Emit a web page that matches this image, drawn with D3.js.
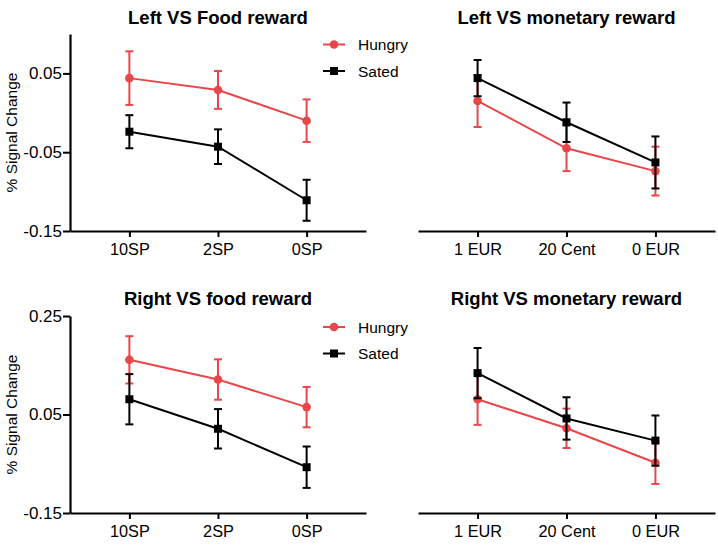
<!DOCTYPE html>
<html>
<head>
<meta charset="utf-8">
<script src="https://cdn.jsdelivr.net/npm/d3@7/dist/d3.min.js"></script>
<style>
  html, body { margin: 0; padding: 0; background: #fff; }
  svg { display: block; font-family: "Liberation Sans", Arial, Helvetica, sans-serif; }
</style>
</head>
<body>
<svg id="chart" width="718" height="547"></svg>
<script>
// ---- data ----
const foodCategories = ["10SP", "2SP", "0SP"];
const moneyCategories = ["1 EUR", "20 Cent", "0 EUR"];
const seriesNames = ["Hungry", "Sated"];
const seriesColors = ["#e8474a", "#000000"];

const leftFoodHungry = [0.044, 0.029, -0.010];
const leftFoodHungryErr = [0.034, 0.024, 0.027];
const leftFoodSated = [-0.024, -0.043, -0.111];
const leftFoodSatedErr = [0.021, 0.022, 0.026];

const leftMoneyHungry = [0.015, -0.045, -0.074];
const leftMoneyHungryErr = [0.033, 0.029, 0.031];
const leftMoneySated = [0.044, -0.012, -0.063];
const leftMoneySatedErr = [0.023, 0.025, 0.033];

const rightFoodHungry = [0.161, 0.121, 0.065];
const rightFoodHungryErr = [0.048, 0.041, 0.041];
const rightFoodSated = [0.081, 0.021, -0.057];
const rightFoodSatedErr = [0.051, 0.040, 0.042];

const rightMoneyHungry = [0.081, 0.022, -0.048];
const rightMoneyHungryErr = [0.052, 0.040, 0.043];
const rightMoneySated = [0.134, 0.042, -0.003];
const rightMoneySatedErr = [0.051, 0.043, 0.051];

const topDomain = [-0.15, 0.10];
const topTicks = [0.05, -0.05, -0.15];
const topTickLabels = ["0.05", "-0.05", "-0.15"];
const bottomDomain = [-0.15, 0.25];
const bottomTicks = [0.25, 0.05, -0.15];
const bottomTickLabels = ["0.25", "0.05", "-0.15"];

const titles = ["Left VS Food reward", "Left VS monetary reward", "Right VS food reward", "Right VS monetary reward"];
const yLabel = "% Signal Change";

// ---- layout ----
const svg = d3.select("#chart");
const rows = [
  { top: 34, bottom: 231, domain: topDomain, ticks: topTicks, labels: topTickLabels, titleY: 24, legendY: [44.5, 71] },
  { top: 316, bottom: 513, domain: bottomDomain, ticks: bottomTicks, labels: bottomTickLabels, titleY: 305, legendY: [327, 353.5] }
];
const cols = [
  { left: 70, right: 366, cats: foodCategories, yAxis: true },
  { left: 418, right: 715, cats: moneyCategories, yAxis: false }
];
const panels = [
  { r: 0, c: 0, h: leftFoodHungry, he: leftFoodHungryErr, s: leftFoodSated, se: leftFoodSatedErr },
  { r: 0, c: 1, h: leftMoneyHungry, he: leftMoneyHungryErr, s: leftMoneySated, se: leftMoneySatedErr },
  { r: 1, c: 0, h: rightFoodHungry, he: rightFoodHungryErr, s: rightFoodSated, se: rightFoodSatedErr },
  { r: 1, c: 1, h: rightMoneyHungry, he: rightMoneyHungryErr, s: rightMoneySated, se: rightMoneySatedErr }
];

panels.forEach((p, i) => {
  const row = rows[p.r], col = cols[p.c];
  const y = d3.scaleLinear().domain(row.domain).range([row.bottom, row.top]);
  const x = d3.scalePoint().domain(col.cats).range([col.left, col.right]).padding(0.67);
  const g = svg.append("g");

  // title
  g.append("text")
    .attr("x", (col.left + col.right) / 2)
    .attr("y", row.titleY)
    .attr("text-anchor", "middle")
    .attr("font-weight", "bold")
    .attr("font-size", 18.5)
    .text(titles[i]);

  // x axis
  const xa = g.append("g")
    .attr("transform", `translate(0,${row.bottom})`)
    .call(d3.axisBottom(x).tickSize(6).tickPadding(6).tickSizeOuter(0));
  xa.select(".domain").attr("stroke-width", 2.2);
  xa.selectAll(".tick line").attr("stroke-width", 2);
  xa.selectAll(".tick text").attr("font-size", 16.3).attr("font-family", null).attr("fill", "#000");

  // y axis
  if (col.yAxis) {
    const ya = g.append("g")
      .attr("transform", `translate(${col.left},0)`)
      .call(d3.axisLeft(y).tickValues(row.ticks)
        .tickFormat((d, k) => row.labels[k]).tickSize(7).tickPadding(1).tickSizeOuter(0));
    ya.select(".domain").attr("stroke-width", 2.2);
    ya.selectAll(".tick line").attr("stroke-width", 2);
    ya.selectAll(".tick text").attr("font-size", 17).attr("font-family", null).attr("fill", "#000");

    g.append("text")
      .attr("transform", `translate(17,${(row.top + row.bottom) / 2}) rotate(-90)`)
      .attr("text-anchor", "middle")
      .attr("font-size", 15.5)
      .text(yLabel);

    // legend
    seriesNames.forEach((name, k) => {
      const ly = row.legendY[k];
      g.append("line").attr("x1", 323).attr("x2", 345).attr("y1", ly).attr("y2", ly)
        .attr("stroke", seriesColors[k]).attr("stroke-width", 2);
      if (k === 0) {
        g.append("circle").attr("cx", 334).attr("cy", ly).attr("r", 4.3).attr("fill", seriesColors[k]);
      } else {
        g.append("rect").attr("x", 330).attr("y", ly - 4).attr("width", 8).attr("height", 8).attr("fill", seriesColors[k]);
      }
      g.append("text").attr("x", 358).attr("y", ly).attr("dy", "0.36em")
        .attr("font-size", 15.5).text(name);
    });
  }

  // series
  const series = [
    { vals: p.h, errs: p.he, color: seriesColors[0], shape: "circle" },
    { vals: p.s, errs: p.se, color: seriesColors[1], shape: "square" }
  ];
  series.forEach(sr => {
    const pts = col.cats.map((c, k) => ({ c, v: sr.vals[k], e: sr.errs[k] }));
    const sg = g.append("g");
    // error bars
    pts.forEach(d => {
      const cx = x(d.c);
      sg.append("line").attr("x1", cx).attr("x2", cx)
        .attr("y1", y(d.v + d.e)).attr("y2", y(d.v - d.e))
        .attr("stroke", sr.color).attr("stroke-width", 2);
      [d.v + d.e, d.v - d.e].forEach(val => {
        sg.append("line").attr("x1", cx - 4).attr("x2", cx + 4)
          .attr("y1", y(val)).attr("y2", y(val))
          .attr("stroke", sr.color).attr("stroke-width", 2);
      });
    });
    // line
    sg.append("path")
      .attr("d", d3.line().x(d => x(d.c)).y(d => y(d.v))(pts))
      .attr("fill", "none").attr("stroke", sr.color).attr("stroke-width", 2);
    // markers
    pts.forEach(d => {
      if (sr.shape === "circle") {
        sg.append("circle").attr("cx", x(d.c)).attr("cy", y(d.v)).attr("r", 4.3).attr("fill", sr.color);
      } else {
        sg.append("rect").attr("x", x(d.c) - 4).attr("y", y(d.v) - 4)
          .attr("width", 8).attr("height", 8).attr("fill", sr.color);
      }
    });
  });
});
</script>
</body>
</html>
